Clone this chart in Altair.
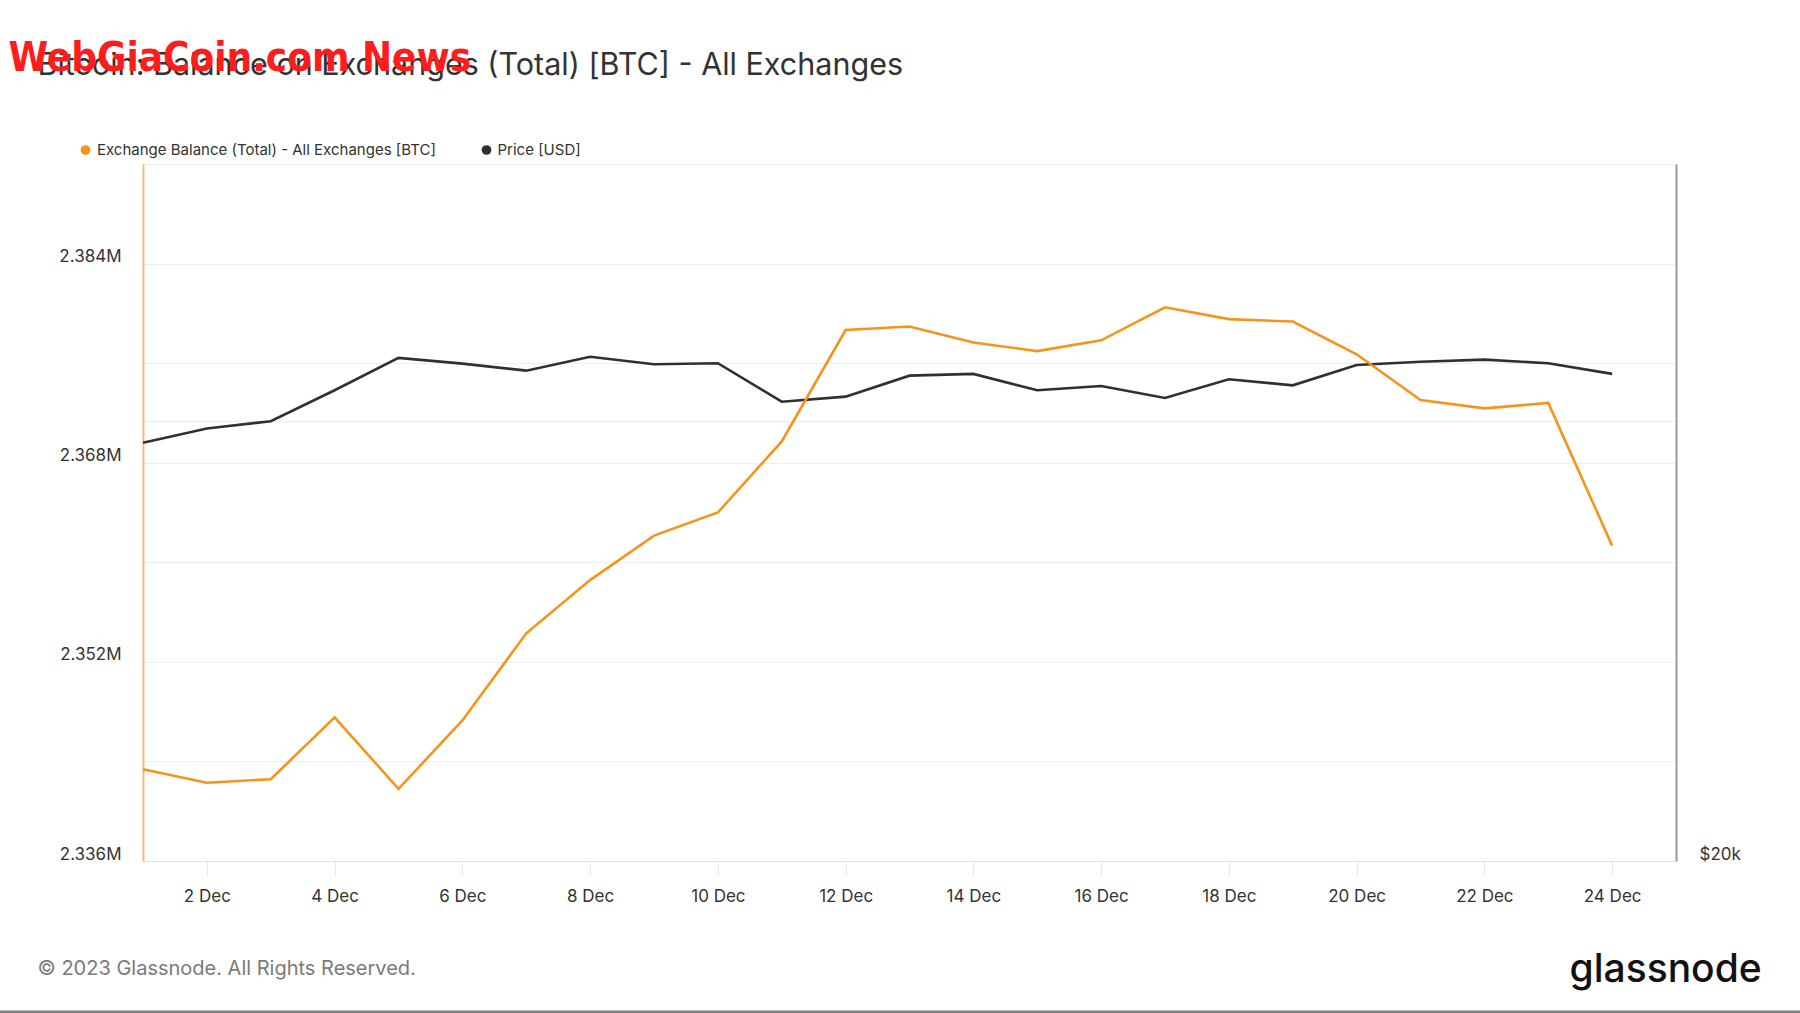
import altair as alt
import pandas as pd

# ---------------- data ----------------
DATES = [f"2023-12-{d:02d}T00:00:00Z" for d in range(1, 25)]
BALANCE_BTC = [2343370, 2342290, 2342570, 2347540, 2341800, 2347290, 2354290, 2358570,
               2362140, 2364000, 2369710, 2378660, 2378940, 2377660, 2376970, 2377830,
               2380490, 2379540, 2379340, 2376710, 2373030, 2372370, 2372800, 2361340]
PRICE_USD = [38670, 39550, 40000, 42000, 44200, 43800, 43320, 44280,
             43760, 43830, 41250, 41580, 42980, 43100, 42000, 42280,
             41490, 42740, 42330, 43710, 43930, 44080, 43830, 43100]

SERIES = ["Exchange Balance (Total) - All Exchanges [BTC]", "Price [USD]"]
TITLE = "Bitcoin: Balance on Exchanges (Total) [BTC] - All Exchanges"
WATERMARK = "WebGiaCoin.com News"
FOOTER = "© 2023 Glassnode. All Rights Reserved."
LOGO = "glassnode"

BAL_TICKS = list(range(2336000, 2392001, 8000))
PRICE_TICKS = [20000, 40000]
X_TICK_DAYS = list(range(2, 25, 2))

ORANGE = "#f7931a"
DARK = "#303030"
FONT = "Inter"

df = pd.DataFrame({"date": DATES, "balance": BALANCE_BTC, "price": PRICE_USD})

W, H = 1533, 697

x_enc = alt.X(
    "date:T",
    scale=alt.Scale(type="utc",
                    domain=[alt.DateTime(year=2023, month=12, date=1, utc=True),
                            alt.DateTime(year=2023, month=12, date=25, utc=True)]),
    axis=alt.Axis(
        title=None,
        values=[alt.DateTime(year=2023, month=12, date=d, utc=True) for d in X_TICK_DAYS],
        labelExpr="utcFormat(datum.value, '%-d %b')",
        grid=False, domainColor="#e2e2e2", domainWidth=1,
        tickColor="#e8e8e8", tickSize=15, tickWidth=1,
        labelPadding=12, labelFontSize=17, labelColor="#333333", labelFont=FONT,
        labelFlush=False, labelOverlap=False,
    ),
)

balance_line = alt.Chart(df).mark_line(color=ORANGE, strokeWidth=2.6).encode(
    x=x_enc,
    y=alt.Y(
        "balance:Q",
        scale=alt.Scale(domain=[2336000, 2392000], nice=False, zero=False),
        axis=alt.Axis(
            title=None, orient="left", values=BAL_TICKS,
            labelExpr="(round(datum.value/1000) - 2336) % 16 == 0 && datum.value < 2390000 ? format(datum.value, '.4s') : ''",
            grid=True, gridColor="#efefef", gridWidth=1,
            ticks=False, domainColor=ORANGE, domainOpacity=0.55, domainWidth=2,
            labelPadding=22, labelFontSize=17, labelColor="#333333", labelFont=FONT,
            labelBaseline="alphabetic", labelOffset=-2,
            labelFlush=False, labelOverlap=False, labelBound=False,
        ),
    ),
)

price_line = alt.Chart(df).mark_line(color=DARK, strokeWidth=2.6).encode(
    x=x_enc,
    y=alt.Y(
        "price:Q",
        scale=alt.Scale(type="log", domain=[20000, 60000], nice=False),
        axis=alt.Axis(
            title=None, orient="right", values=PRICE_TICKS,
            labelExpr="datum.value == 20000 ? '$20k' : ''",
            grid=True, gridColor="#efefef", gridWidth=1,
            ticks=False, domainColor="#9a9a9a", domainWidth=2,
            labelPadding=23, labelFontSize=17, labelColor="#333333", labelFont=FONT,
            labelBaseline="alphabetic", labelOffset=-2,
            labelFlush=False, labelOverlap=False, labelBound=False,
        ),
    ),
)

one = pd.DataFrame({"k": [0]})


def text(t, x, y, size, color, weight="normal", font=FONT, align="left"):
    return alt.Chart(pd.DataFrame({"t": [t]})).mark_text(
        align=align, baseline="middle", fontSize=size, color=color,
        fontWeight=weight, font=font,
    ).encode(text="t:N", x=alt.value(x), y=alt.value(y))


def dot(x, y, color):
    return alt.Chart(one).mark_point(
        filled=True, shape="circle", size=95, color=color, opacity=1
    ).encode(x=alt.value(x), y=alt.value(y))


legend_layers = [
    dot(-57.5, -14, ORANGE),
    text(SERIES[0], -46, -14, 15, "#333333"),
    dot(343.5, -14, DARK),
    text(SERIES[1], 354.5, -14, 15, "#333333"),
]

title_layer = text(TITLE, -105.5, -98, 30.5, "#333333")
watermark = text(WATERMARK, -134.5, -105, 40, "#ff1c1c", weight="bold",
                 font="Liberation Sans Narrow, DejaVu Sans Condensed, sans-serif")
footer = text(FOOTER, -105.5, 805, 20, "#7a7a7a")
logo = text(LOGO, 1426.5, 806, 39, "#111111", weight=500)

bottom_rule = alt.Chart(one).mark_rule(color="#808080", strokeWidth=3).encode(
    x=alt.value(-144), x2=alt.value(1657), y=alt.value(848)
)

chart = alt.layer(
    price_line, balance_line, *legend_layers, title_layer, watermark, footer, logo, bottom_rule
).resolve_scale(y="independent").properties(
    width=W, height=H,
    padding={"left": 143, "top": 164, "right": 124, "bottom": 152},
    autosize=alt.AutoSizeParams(type="none"),
    background="white",
).configure_view(stroke="#e6e6e6", strokeWidth=1)

chart.save("out.html", embed_options={"renderer": "svg", "actions": False})
